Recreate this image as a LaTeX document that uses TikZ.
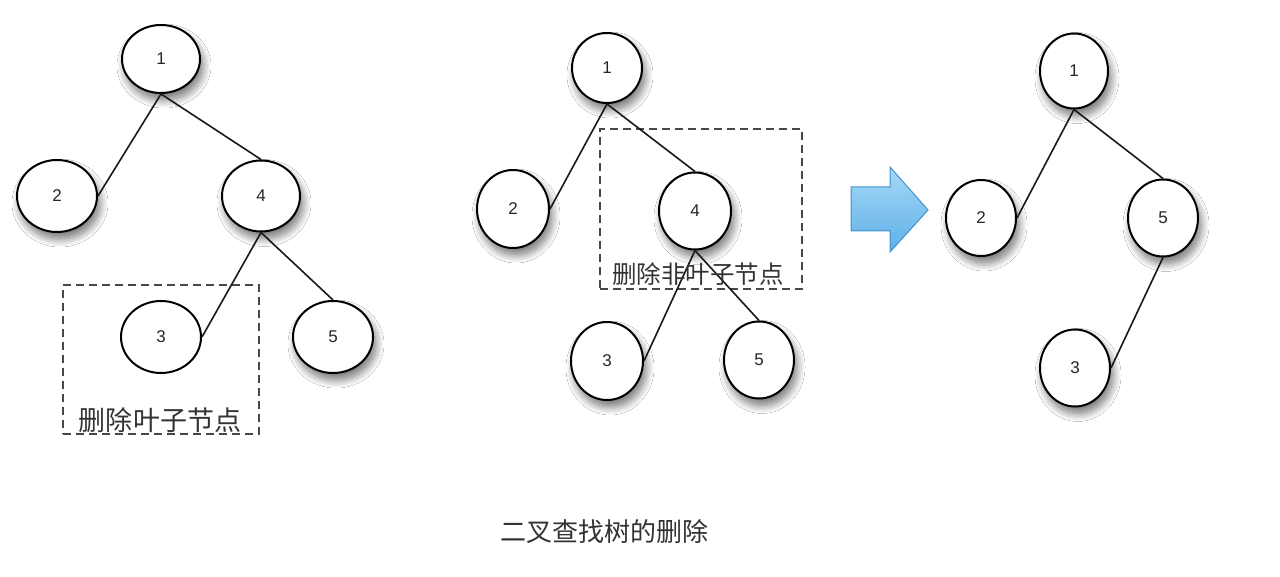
\documentclass[tikz,border=0pt]{standalone}
\usepackage{fontspec}
\newfontfamily\cjk{Noto Sans CJK SC}
\newfontfamily\numfont{Liberation Sans}
\usetikzlibrary{shapes.geometric,shadows.blur}
\definecolor{arrowfillA}{HTML}{A6D8F7}
\definecolor{arrowfillB}{HTML}{5EB0E8}
\definecolor{arrowline}{HTML}{3F92CC}
\tikzset{
  basenode/.style={ellipse, draw=black, line width=2bp, fill=white, inner sep=0pt,
    font=\numfont\fontsize{17bp}{19bp}\selectfont, text=black!85},
  tnode/.style={basenode, blur shadow={shadow xshift=3bp, shadow yshift=-7bp, shadow blur radius=8bp, shadow blur steps=12, shadow opacity=55}},
  edge/.style={line width=1.6bp, draw=black!90},
  delbox/.style={draw=black!72, line width=2bp, dash pattern=on 8bp off 5bp, inner sep=0pt},
  cjklabel/.style={font=\cjk\fontsize{#1}{#1}\selectfont, text=black!80, inner sep=0pt},
}
\begin{document}
\begin{tikzpicture}[x=1bp,y=-1bp]
\useasboundingbox (0,0) rectangle (1280,577);
\fill[white] (0,0) rectangle (1280,577);

% dashed boxes
\node[delbox, minimum width=196bp, minimum height=149bp] (box1) at (161,359.5) {};
\node[delbox, minimum width=202bp, minimum height=160bp] (box2) at (701,209) {};

% tree 1
\node[tnode, minimum width=78bp, minimum height=68bp] (a1) at (161,59) {1};
\node[tnode, minimum width=80bp, minimum height=72bp] (a2) at (57,196) {2};
\node[tnode, minimum width=78bp, minimum height=71bp] (a4) at (261,196) {4};
\node[basenode, minimum width=80bp, minimum height=72bp] (a3) at (161,337) {3};
\node[tnode, minimum width=80bp, minimum height=72bp] (a5) at (333,337) {5};
\draw[edge] (a1.south) -- (a2.east);
\draw[edge] (a1.south) -- (a4.north);
\draw[edge] (a4.south) -- (a3.east);
\draw[edge] (a4.south) -- (a5.north);
\node[cjklabel=27bp] (lab1) at (160,420) {删除叶子节点};

% tree 2
\node[tnode, minimum width=70bp, minimum height=70bp] (b1) at (607,68) {1};
\node[tnode, minimum width=72bp, minimum height=78bp] (b2) at (513,209) {2};
\node[tnode, minimum width=72bp, minimum height=77bp] (b4) at (695,211) {4};
\node[tnode, minimum width=72bp, minimum height=78bp] (b3) at (607,361) {3};
\node[tnode, minimum width=70bp, minimum height=77bp] (b5) at (759,360) {5};
\draw[edge] (b1.south) -- (b2.east);
\draw[edge] (b1.south) -- (b4.north);
\draw[edge] (b4.south) -- (b3.east);
\draw[edge] (b4.south) -- (b5.north);
\node[cjklabel=24.5bp] (lab2) at (698,274) {删除非叶子节点};

% arrow
\draw[arrowline, line width=1bp, top color=arrowfillA, bottom color=arrowfillB, line join=miter]
  (851,187) -- (890,187) -- (890,167) -- (928,210) -- (890,252) -- (890,231) -- (851,231) -- cycle;

% tree 3
\node[tnode, minimum width=68bp, minimum height=75bp] (c1) at (1074,71) {1};
\node[tnode, minimum width=70bp, minimum height=76bp] (c2) at (981,218) {2};
\node[tnode, minimum width=70bp, minimum height=77bp] (c5) at (1163,218) {5};
\node[tnode, minimum width=70bp, minimum height=77bp] (c3) at (1075,368) {3};
\draw[edge] (c1.south) -- (c2.east);
\draw[edge] (c1.south) -- (c5.north);
\draw[edge] (c5.south) -- (c3.east);

% caption
\node[cjklabel=26bp] (title) at (604,532) {二叉查找树的删除};
\end{tikzpicture}
\end{document}
